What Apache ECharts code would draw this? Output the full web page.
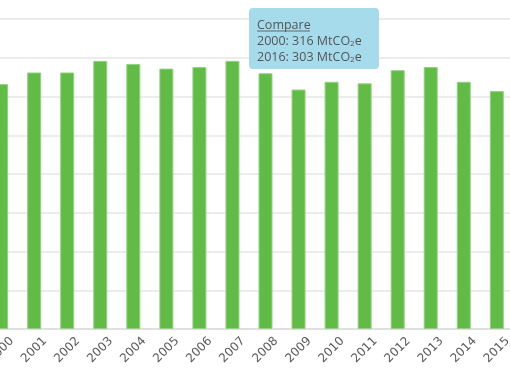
<!DOCTYPE html>
<html>
<head>
<meta charset="utf-8">
<style>html,body{margin:0;padding:0;background:#fff;overflow:hidden;width:510px;height:382px;position:relative;}#c{position:absolute;left:-16px;top:0;width:563px;height:382px;}</style>
<script src="https://cdn.jsdelivr.net/npm/echarts@6/dist/echarts.min.js"></script>
</head>
<body>
<div id="c"></div>
<script>
var years = ['2000','2001','2002','2003','2004','2005','2006','2007','2008','2009','2010','2011','2012','2013','2014','2015','2016'];
var emissions = [316, 331, 331, 346, 342, 336, 338, 346, 330, 309, 319, 317, 334, 338, 319, 307, 303];
var yTicks = [0, 50, 100, 150, 200, 250, 300, 350, 400];
var tipTitle = 'Compare';
var tipLines = [['2000', 316], ['2016', 303]];

var chart = echarts.init(document.getElementById('c'));
var font = 'Open Sans';
var ox = 16; // page offset of the chart container
var tipText = tipLines.map(function (l) { return '{n|' + l[0] + ': ' + l[1] + ' MtCO}{s|2}{n|e}'; }).join('\n');
chart.setOption({
  animation: false,
  grid: { left: 0, right: 0, top: 19, bottom: 53, containLabel: false },
  xAxis: {
    type: 'category', data: years,
    axisLine: { lineStyle: { color: '#dcdcdc', width: 1.5 } },
    axisTick: { show: false },
    axisLabel: { rotate: 45, align: 'center', verticalAlign: 'middle', color: '#5a5a5a', fontFamily: 'DejaVu Sans', fontSize: 12, margin: 21, interval: 0 }
  },
  yAxis: {
    type: 'value', min: yTicks[0], max: yTicks[yTicks.length - 1], interval: yTicks[1] - yTicks[0],
    axisLabel: { show: false }, axisLine: { show: false }, axisTick: { show: false },
    splitLine: { lineStyle: { color: '#e6e6e6', width: 1.5 } }
  },
  series: [{
    type: 'bar', data: emissions, barWidth: 14,
    itemStyle: { color: '#62bb46', borderColor: '#93d283', borderWidth: 1 }
  }],
  graphic: [
    { type: 'rect', shape: { x: 249 + ox, y: 8, width: 130, height: 61, r: 4 }, style: { fill: '#a6dbec' }, z: 100 },
    { type: 'text', x: 257 + ox, y: 19, z: 101, style: { text: tipTitle, font: '12.5px "Open Sans"', fill: '#555' } },
    { type: 'line', shape: { x1: 257 + ox, y1: 31, x2: 310 + ox, y2: 31 }, style: { stroke: '#666', lineWidth: 1 }, z: 101 },
    { type: 'text', x: 257 + ox, y: 33, z: 101, style: {
      text: tipText, lineHeight: 16, fill: '#555',
      rich: { n: { fontFamily: font, fontSize: 12.5, color: '#555', lineHeight: 16 }, s: { fontFamily: font, fontSize: 8, color: '#555', padding: [6, 0, 0, 0], lineHeight: 16 } }
    } }
  ]
});
</script>
</body>
</html>
